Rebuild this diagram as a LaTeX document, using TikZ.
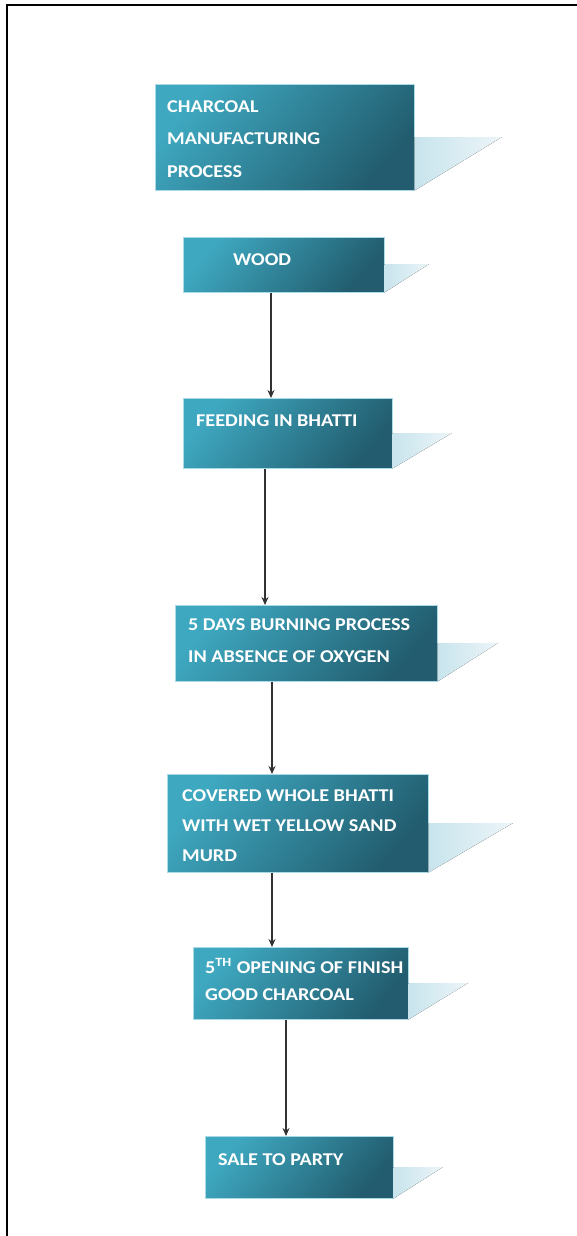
\documentclass[tikz,border=0pt]{standalone}
\usepackage{fontspec}
\usetikzlibrary{arrows.meta}
\newfontfamily\boxfont[FakeStretch=1.12]{Carlito}
\definecolor{boxlight}{RGB}{62,168,192}
\definecolor{boxdark}{RGB}{34,92,110}
\definecolor{boxedge}{RGB}{170,218,230}
\definecolor{shadA}{RGB}{200,228,237}
\definecolor{shadB}{RGB}{236,245,248}
\definecolor{arrcol}{RGB}{50,50,50}
\tikzset{
  pbox/.style={rectangle, inner sep=0pt, anchor=north west, top color=boxlight, bottom color=boxdark, shading angle=50, draw=boxedge, line width=0.5pt},
  btext/.style={inner sep=0pt, anchor=base west, align=left, text=white, font=\boxfont\bfseries\fontsize{18}{#1}\selectfont},
  shad/.style={left color=shadA, right color=shadB, draw=none},
  arr/.style={draw=arrcol, line width=1.6pt, -{Stealth[length=8pt,width=7pt]}}
}
\begin{document}
\begin{tikzpicture}[x=1pt,y=-1pt]
\useasboundingbox (0,0) rectangle (577,1236);
% frame
\draw[line width=2pt, black] (6.5,1236) -- (6.5,5.5) -- (577,5.5);
% boxes
\node[pbox, minimum width=259pt, minimum height=106pt] (chart) at (155,84) {};
\node[pbox, minimum width=201pt, minimum height=55pt] (wood) at (183,237) {};
\node[pbox, minimum width=209pt, minimum height=70pt] (feed) at (183,398) {};
\node[pbox, minimum width=262pt, minimum height=76pt] (burn) at (175,605) {};
\node[pbox, minimum width=261pt, minimum height=98pt] (cover) at (167,774) {};
\node[pbox, minimum width=215pt, minimum height=72pt] (open) at (193,947) {};
\node[pbox, minimum width=188pt, minimum height=62pt] (sale) at (205,1136) {};
% shadows
\fill[shad] (chart.south east |- 0,137) -- (502,137) -- (chart.south east) -- cycle;
\fill[shad] (wood.south east |- 0,264) -- (429,264) -- (wood.south east) -- cycle;
\fill[shad] (feed.south east |- 0,433) -- (452,433) -- (feed.south east) -- cycle;
\fill[shad] (burn.south east |- 0,643) -- (498,643) -- (burn.south east) -- cycle;
\fill[shad] (cover.south east |- 0,823) -- (513,823) -- (cover.south east) -- cycle;
\fill[shad] (open.south east |- 0,983) -- (468,983) -- (open.south east) -- cycle;
\fill[shad] (sale.south east |- 0,1167) -- (443,1167) -- (sale.south east) -- cycle;
% texts (anchor at baseline of last line)
\node[btext=32.5] (t1) at (167,177) {CHARCOAL\\MANUFACTURING\\PROCESS};
\node[btext=30] (t2) at (233,265) {WOOD};
\node[btext=30] (t3) at (196,426) {FEEDING IN BHATTI};
\node[btext=32] (t4) at (188,662) {5 DAYS BURNING PROCESS\\IN ABSENCE OF OXYGEN};
\node[btext=30] (t5) at (182,861) {COVERED WHOLE BHATTI\\WITH WET YELLOW SAND\\MURD};
\node[btext=27] (t6) at (205,1000) {5\textsuperscript{TH}\hspace{5pt}OPENING OF FINISH\\GOOD CHARCOAL};
\node[btext=30] (t7) at (218,1165) {SALE TO PARTY};
% arrows
\draw[arr] (271,0 |- wood.south) -- (271,0 |- feed.north);
\draw[arr] (265,0 |- feed.south) -- (265,0 |- burn.north);
\draw[arr] (272,0 |- burn.south) -- (272,0 |- cover.north);
\draw[arr] (272,0 |- cover.south) -- (272,0 |- open.north);
\draw[arr] (286,0 |- open.south) -- (286,0 |- sale.north);
\end{tikzpicture}
\end{document}
